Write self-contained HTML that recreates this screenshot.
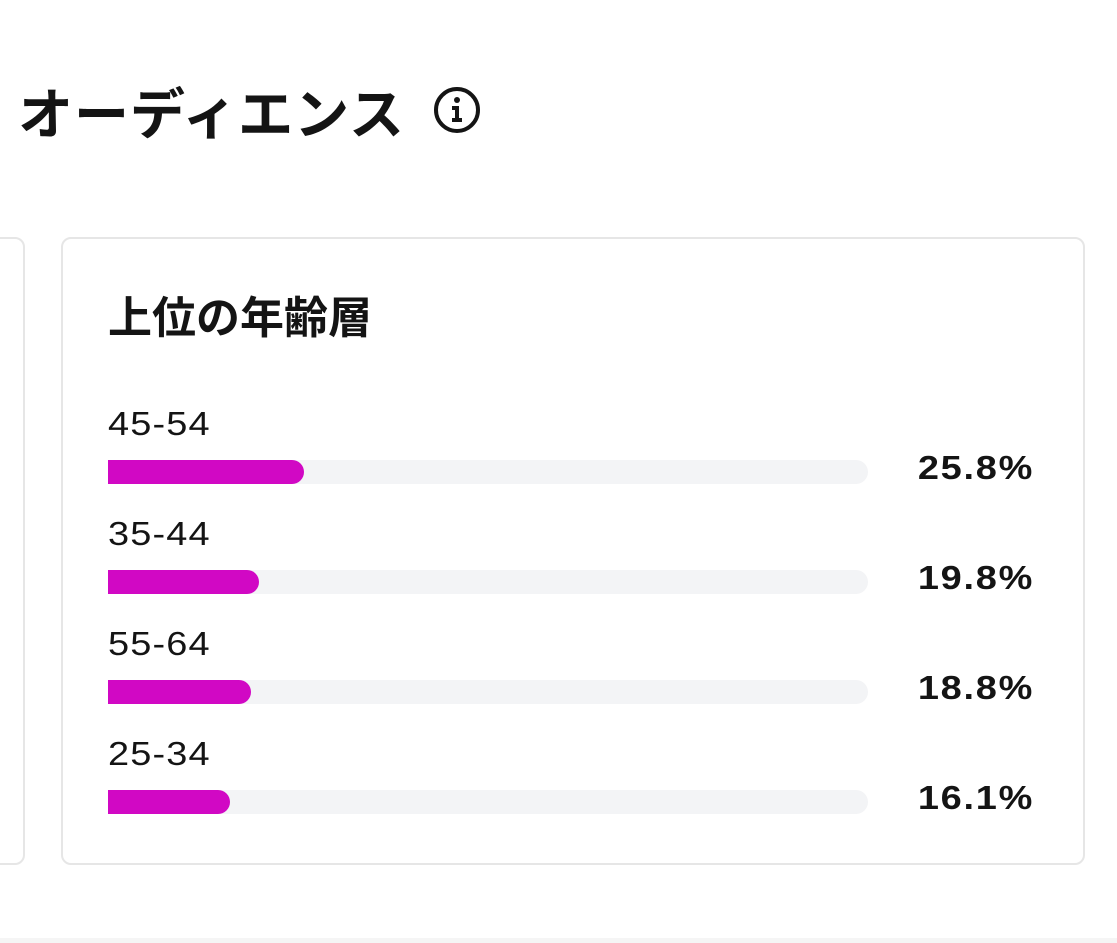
<!DOCTYPE html>
<html><head><meta charset="utf-8"><style>
body{margin:0;width:1117px;height:943px;background:#fff;position:relative;overflow:hidden;font-family:"Liberation Sans","Noto Sans CJK JP",sans-serif;color:#141414}
.a{position:absolute}
h1{position:absolute;left:18px;top:72px;margin:0;font-size:55px;font-weight:700;line-height:76px;letter-spacing:1px;font-family:"Noto Sans CJK JP",sans-serif}
.card{position:absolute;border:2px solid #e6e6e6;border-radius:10px;box-sizing:border-box}
.lbl{position:absolute;left:108px;font-size:33px;line-height:36px;letter-spacing:1px;transform:scaleX(1.15);transform-origin:left}
.tr{position:absolute;left:108px;width:760px;height:24px;background:#f3f4f6;border-radius:0 12px 12px 0}
.f{height:24px;background:#d108c4;border-radius:0 12px 12px 0}
.p{position:absolute;right:83px;font-size:33px;font-weight:700;line-height:36px;letter-spacing:1.5px;transform:scaleX(1.15);transform-origin:right}
</style></head><body>
<h1>オーディエンス</h1>
<svg class="a" style="left:433px;top:86px" width="48" height="48" viewBox="0 0 48 48"><circle cx="24" cy="24" r="21" fill="none" stroke="#141414" stroke-width="4"/><circle cx="24" cy="14" r="3" fill="#141414"/><path d="M19 20h7v12h3v4H19v-4h3v-8h-3z" fill="#141414"/></svg>
<div class="card" style="left:-40px;top:237px;width:65px;height:628px"></div>
<div class="card" style="left:61px;top:237px;width:1024px;height:628px"></div>
<div class="a" style="left:108px;top:286px;font-size:44px;font-weight:700;line-height:56px;font-family:'Noto Sans CJK JP',sans-serif">上位の年齢層</div>
<div class="lbl" style="top:406px">45-54</div><div class="tr" style="top:460px"><div class="f" style="width:196px"></div></div><div class="p" style="top:450px">25.8%</div>
<div class="lbl" style="top:516px">35-44</div><div class="tr" style="top:570px"><div class="f" style="width:151px"></div></div><div class="p" style="top:560px">19.8%</div>
<div class="lbl" style="top:626px">55-64</div><div class="tr" style="top:680px"><div class="f" style="width:143px"></div></div><div class="p" style="top:670px">18.8%</div>
<div class="lbl" style="top:736px">25-34</div><div class="tr" style="top:790px"><div class="f" style="width:122px"></div></div><div class="p" style="top:780px">16.1%</div>
<div class="a" style="left:0;top:938px;width:1117px;height:5px;background:#f5f5f5"></div>
</body></html>
